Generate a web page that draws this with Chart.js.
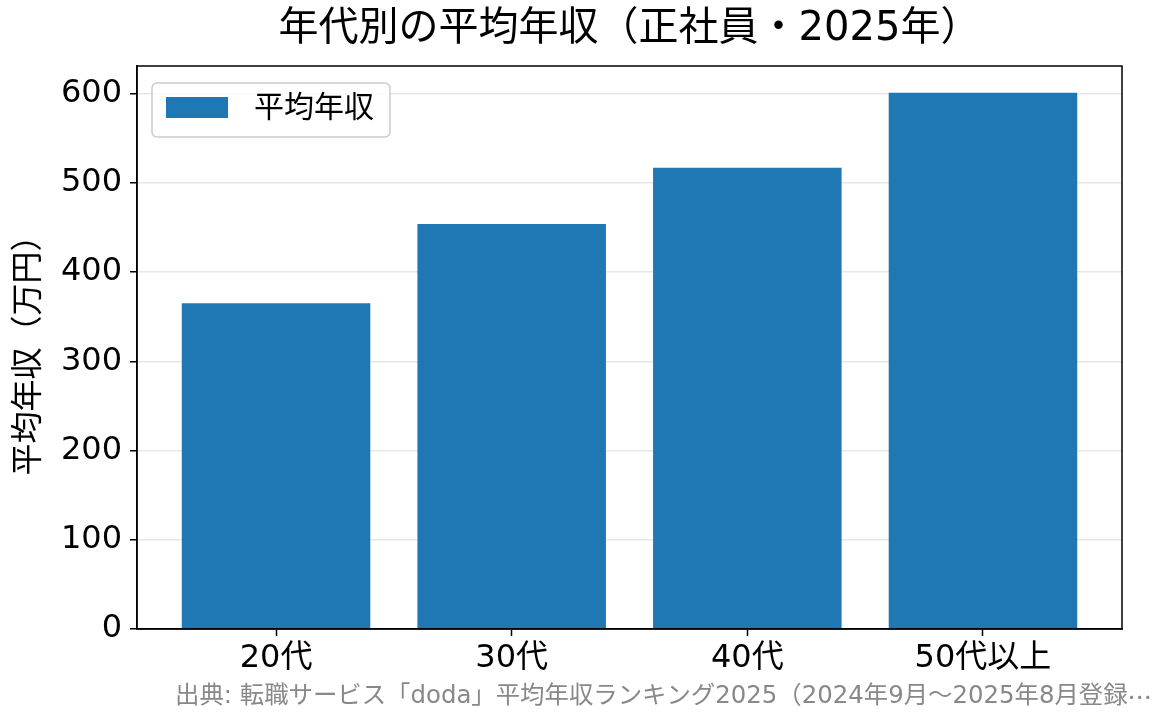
<!DOCTYPE html>
<html><head><meta charset="utf-8">
<script src="https://cdn.jsdelivr.net/npm/chart.js@4/dist/chart.umd.min.js"></script>
<style>html,body{margin:0;padding:0;background:#fff;overflow:hidden}#wrap{width:1165px;height:725px;position:relative}</style>
</head><body><div id="wrap"><canvas id="c"></canvas></div>
<script>
const categories = ['20代', '30代', '40代', '50代以上'];
const salaries = [365, 454, 517, 601];
const seriesLabel = '平均年収';
const yTicks = [0, 100, 200, 300, 400, 500, 600];
const titleText = '年代別の平均年収（正社員・2025年）';
const yAxisTitle = '平均年収（万円）';
const sourceText = '出典: 転職サービス「doda」平均年収ランキング2025（2024年9月～2025年8月登録';
const sourceEllipsis = '…';

const FONT = '"DejaVu Sans", "Noto Sans CJK JP", sans-serif';
const CJK = '"Noto Sans CJK JP", sans-serif';
const BAR = '#1f77b4';

const decor = {
  id: 'decor',
  afterDraw(chart) {
    const ctx = chart.ctx, a = chart.chartArea;
    ctx.save();
    // frame
    ctx.strokeStyle = '#000'; ctx.lineWidth = 1.5;
    ctx.strokeRect(a.left, a.top, a.right - a.left, a.bottom - a.top);
    // title
    ctx.fillStyle = '#000';
    ctx.font = '40px ' + FONT;
    ctx.textAlign = 'center'; ctx.textBaseline = 'middle';
    ctx.fillText(titleText, (a.left + a.right) / 2, 30);
    // y title
    ctx.save();
    ctx.translate(30, (a.top + a.bottom) / 2);
    ctx.rotate(-Math.PI / 2);
    ctx.font = '32px ' + FONT;
    ctx.fillText(yAxisTitle, 0, 0);
    ctx.restore();
    // legend
    const lx = 152, ly = 83, lw = 238, lh = 54, r = 5;
    ctx.beginPath();
    ctx.moveTo(lx + r, ly); ctx.arcTo(lx + lw, ly, lx + lw, ly + lh, r);
    ctx.arcTo(lx + lw, ly + lh, lx, ly + lh, r);
    ctx.arcTo(lx, ly + lh, lx, ly, r);
    ctx.arcTo(lx, ly, lx + lw, ly, r);
    ctx.closePath();
    ctx.fillStyle = 'rgba(255,255,255,0.8)'; ctx.fill();
    ctx.strokeStyle = '#cccccc'; ctx.lineWidth = 1.5; ctx.stroke();
    const ds = chart.data.datasets[0];
    ctx.fillStyle = ds.backgroundColor;
    ctx.fillRect(166, 97, 62, 21);
    ctx.fillStyle = '#000'; ctx.font = '30px ' + FONT;
    ctx.textAlign = 'left'; ctx.textBaseline = 'middle';
    ctx.fillText(ds.label, 254, 109);
    // footer
    ctx.fillStyle = '#888888';
    ctx.textAlign = 'right'; ctx.textBaseline = 'middle';
    ctx.font = '24.4px ' + CJK;
    const ew = ctx.measureText(sourceEllipsis).width;
    ctx.fillText(sourceEllipsis, 1152, 697);
    ctx.font = '24.4px ' + FONT;
    ctx.fillText(sourceText, 1152 - ew, 697);
    ctx.restore();
  }
};

new Chart(document.getElementById('c'), {
  type: 'bar',
  data: {
    datasets: [{
      label: seriesLabel,
      data: salaries.map((v, i) => ({ x: i, y: v })),
      backgroundColor: BAR,
      borderWidth: 0,
      barPercentage: 0.8,
      categoryPercentage: 1.0
    }]
  },
  options: {
    responsive: true,
    maintainAspectRatio: false,
    animation: false,
    devicePixelRatio: 1,
    layout: { padding: { left: 0, right: 43, top: 66, bottom: 0 } },
    plugins: { legend: { display: false }, title: { display: false }, tooltip: { enabled: false } },
    scales: {
      x: {
        type: 'linear',
        offset: false,
        min: -0.59, max: 3.59,
        afterBuildTicks: (s) => { s.ticks = categories.map((_, i) => ({ value: i })); },
        afterFit: (s) => { s.height = 96; },
        ticks: { callback: (v) => categories[v], color: '#000', font: { family: FONT, size: 32 }, padding: 3, maxRotation: 0, autoSkip: false },
        grid: { offset: false, drawOnChartArea: false, drawTicks: true, tickLength: 7, tickColor: '#000', tickWidth: 1.5 },
        border: { display: true, color: '#000', width: 1.5 }
      },
      y: {
        min: 0, max: 631,
        z: 1,
        afterBuildTicks: (s) => { s.ticks = yTicks.map(v => ({ value: v })); },
        afterFit: (s) => { s.width = 137; },
        ticks: { color: '#000', font: { family: FONT, size: 32 }, padding: 8 },
        grid: { color: 'rgba(176,176,176,0.3)', lineWidth: 1.5, drawTicks: true, tickLength: 7, tickColor: '#000', tickWidth: 1.5 },
        border: { display: true, color: '#000', width: 1.5 }
      }
    }
  },
  plugins: [decor]
});
</script>
</body></html>
